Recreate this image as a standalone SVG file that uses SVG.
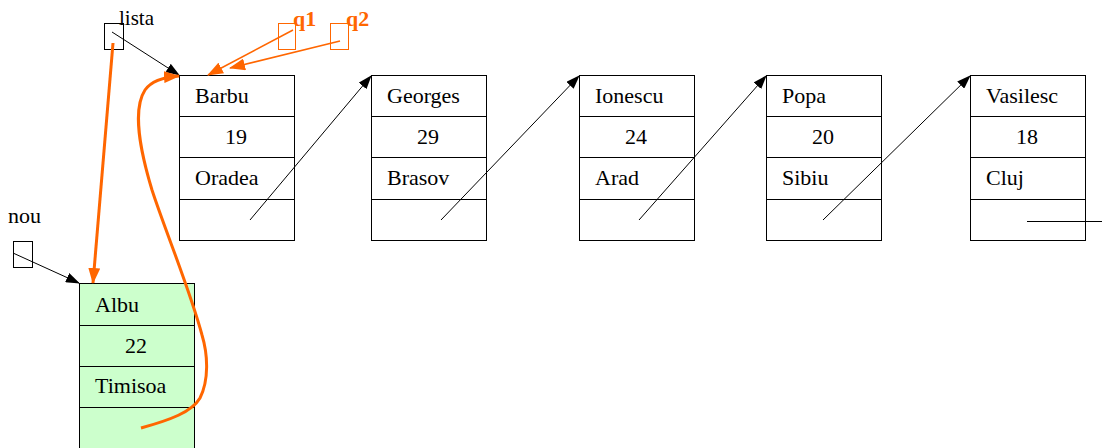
<svg xmlns="http://www.w3.org/2000/svg" width="1102" height="448" viewBox="0 0 1102 448">
<style>
.box{fill:#fff;stroke:#000;stroke-width:1}
.g{fill:#ccffcc}
.t{font-family:'Liberation Serif','Times New Roman','DejaVu Serif',serif;font-size:22px;fill:#000}
.c{text-anchor:middle}
.e{stroke:#000;stroke-width:1;fill:none}
.o{stroke:#ff6600;fill:none}
.ol{font-family:'Liberation Serif','Times New Roman','DejaVu Serif',serif;font-size:22px;font-weight:bold;fill:#ff6600}
</style>
<defs>
<marker id="a" markerWidth="14" markerHeight="10" refX="13" refY="5" orient="auto" markerUnits="userSpaceOnUse"><path d="M0,0 L14,5 L0,10 z" fill="#000"/></marker>
<marker id="ao" markerWidth="16" markerHeight="12" refX="15" refY="6" orient="auto" markerUnits="userSpaceOnUse"><path d="M0,0 L16,6 L0,12 z" fill="#ff6600"/></marker>
</defs>
<g id="node-barbu">
<rect class="box" x="179.5" y="75.5" width="115" height="165"/>
<path class="e" d="M179.5 116.5H294.5M179.5 157.5H294.5M179.5 199.5H294.5"/>
<text class="t" x="195" y="103">Barbu</text><text class="t c" x="236" y="144">19</text><text class="t" x="195" y="185">Oradea</text>
</g>
<g id="node-georges">
<rect class="box" x="371.5" y="75.5" width="115" height="165"/>
<path class="e" d="M371.5 116.5H486.5M371.5 157.5H486.5M371.5 199.5H486.5"/>
<text class="t" x="387" y="103">Georges</text><text class="t c" x="428" y="144">29</text><text class="t" x="387" y="185">Brasov</text>
</g>
<g id="node-ionescu">
<rect class="box" x="579.5" y="75.5" width="115" height="165"/>
<path class="e" d="M579.5 116.5H694.5M579.5 157.5H694.5M579.5 199.5H694.5"/>
<text class="t" x="595" y="103">Ionescu</text><text class="t c" x="636" y="144">24</text><text class="t" x="595" y="185">Arad</text>
</g>
<g id="node-popa">
<rect class="box" x="766.5" y="75.5" width="115" height="165"/>
<path class="e" d="M766.5 116.5H881.5M766.5 157.5H881.5M766.5 199.5H881.5"/>
<text class="t" x="782" y="103">Popa</text><text class="t c" x="823" y="144">20</text><text class="t" x="782" y="185">Sibiu</text>
</g>
<g id="node-vasilesc">
<rect class="box" x="970.5" y="75.5" width="115" height="165"/>
<path class="e" d="M970.5 116.5H1085.5M970.5 157.5H1085.5M970.5 199.5H1085.5"/>
<text class="t" x="986" y="103">Vasilesc</text><text class="t c" x="1027" y="144">18</text><text class="t" x="986" y="185">Cluj</text>
</g>
<g id="node-albu">
<rect class="box g" x="79.5" y="283.5" width="115" height="170"/>
<path class="e" d="M79.5 325.5H194.5M79.5 366.5H194.5M79.5 407.5H194.5"/>
<text class="t" x="95" y="312">Albu</text><text class="t c" x="136" y="353">22</text><text class="t" x="95" y="393">Timisoa</text>
</g>
<g id="node-lista">
<rect class="box" x="104.5" y="23.5" width="19" height="26"/>
<text class="t" x="119" y="25" style="font-size:21px">lista</text>
</g>
<g id="node-nou">
<rect class="box" x="13.5" y="241.5" width="19" height="26"/>
<text class="t" x="8" y="223">nou</text>
</g>
<g id="node-q1">
<rect class="box" x="278.5" y="23.5" width="17" height="26" style="stroke:#ff6600;fill:none"/>
<text class="ol" x="293" y="26">q1</text>
</g>
<g id="node-q2">
<rect class="box" x="330.5" y="23.5" width="18" height="26" style="stroke:#ff6600;fill:none"/>
<text class="ol" x="346" y="26">q2</text>
</g>
<g id="connectors">
<line class="e" x1="250" y1="220" x2="371" y2="76" marker-end="url(#a)"/>
<line class="e" x1="441" y1="220" x2="579" y2="76" marker-end="url(#a)"/>
<line class="e" x1="639" y1="220" x2="766" y2="76" marker-end="url(#a)"/>
<line class="e" x1="823" y1="220" x2="970" y2="76" marker-end="url(#a)"/>
<line class="e" x1="1027" y1="221.5" x2="1102" y2="221.5"/>
<line class="e" x1="112" y1="32" x2="179" y2="75" marker-end="url(#a)"/>
<line class="e" x1="13" y1="253" x2="79" y2="283" marker-end="url(#a)"/>
<line class="o" stroke-width="1.5" x1="293" y1="30" x2="208" y2="75" marker-end="url(#ao)"/>
<line class="o" stroke-width="1.5" x1="340" y1="41" x2="230" y2="68" marker-end="url(#ao)"/>
<line class="o" stroke-width="3" x1="113" y1="43" x2="93" y2="283" marker-end="url(#ao)"/>
<path class="o" stroke-width="3" d="M141 428 C170 420 192 412 200 398 C209 380 208 355 202 335 C190 290 165 230 152 190 C140 150 132 110 145 90 C152 80 165 77 179 76" marker-end="url(#ao)"/>
</g>
</svg>
